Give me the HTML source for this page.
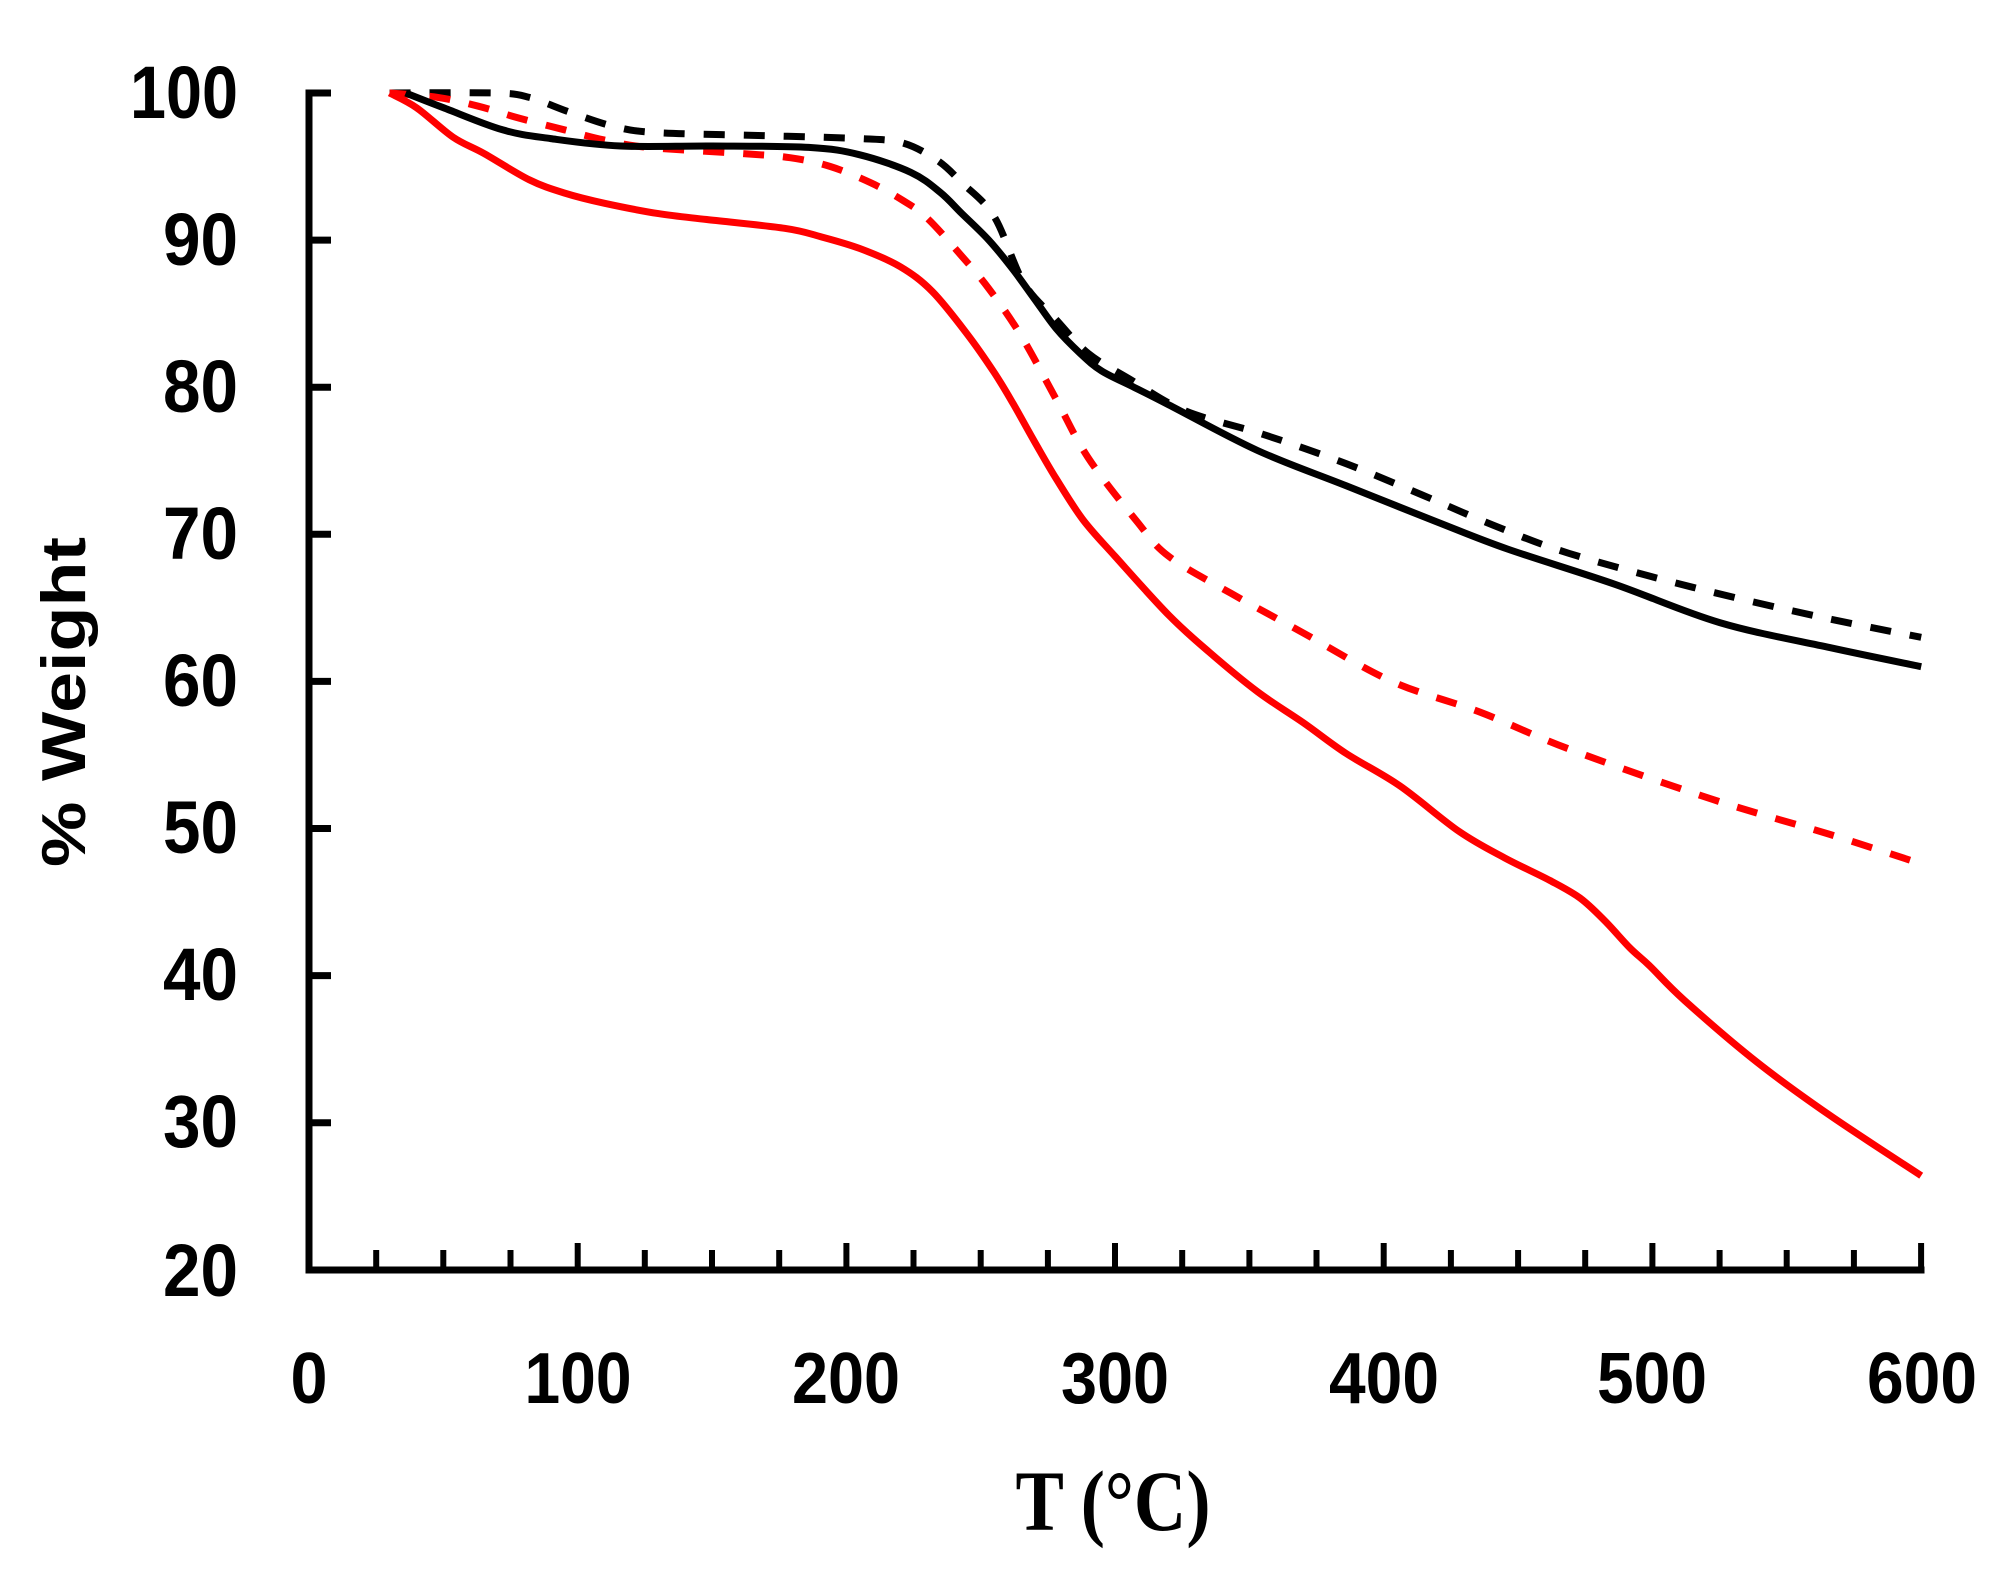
<!DOCTYPE html>
<html>
<head>
<meta charset="utf-8">
<style>
  html, body { margin:0; padding:0; background:#ffffff; }
  svg { display:block; }
</style>
</head>
<body>
<svg id="chart" width="2001" height="1572" viewBox="0 0 2001 1572" xmlns="http://www.w3.org/2000/svg">
  <rect x="0" y="0" width="2001" height="1572" fill="#ffffff"/>

  <!-- Axes -->
  <g stroke="#000" stroke-width="7" fill="none" stroke-linecap="square">
    <line x1="309" y1="93" x2="309" y2="1270"/>
    <line x1="309" y1="1270" x2="1921" y2="1270"/>
  </g>
  <!-- Y ticks -->
  <g stroke="#000" stroke-width="7">
    <line x1="309" y1="93" x2="331" y2="93"/>
    <line x1="309" y1="240.1" x2="331" y2="240.1"/>
    <line x1="309" y1="387.2" x2="331" y2="387.2"/>
    <line x1="309" y1="534.3" x2="331" y2="534.3"/>
    <line x1="309" y1="681.4" x2="331" y2="681.4"/>
    <line x1="309" y1="828.5" x2="331" y2="828.5"/>
    <line x1="309" y1="975.6" x2="331" y2="975.6"/>
    <line x1="309" y1="1122.7" x2="331" y2="1122.7"/>
  </g>
  <!-- X ticks -->
  <g stroke="#000" stroke-width="6">
    <line x1="376.2" y1="1270" x2="376.2" y2="1250"/>
    <line x1="443.3" y1="1270" x2="443.3" y2="1250"/>
    <line x1="510.5" y1="1270" x2="510.5" y2="1250"/>
    <line x1="577.7" y1="1270" x2="577.7" y2="1243"/>
    <line x1="644.8" y1="1270" x2="644.8" y2="1250"/>
    <line x1="712.0" y1="1270" x2="712.0" y2="1250"/>
    <line x1="779.2" y1="1270" x2="779.2" y2="1250"/>
    <line x1="846.4" y1="1270" x2="846.4" y2="1243"/>
    <line x1="913.5" y1="1270" x2="913.5" y2="1250"/>
    <line x1="980.7" y1="1270" x2="980.7" y2="1250"/>
    <line x1="1047.9" y1="1270" x2="1047.9" y2="1250"/>
    <line x1="1115.0" y1="1270" x2="1115.0" y2="1243"/>
    <line x1="1182.2" y1="1270" x2="1182.2" y2="1250"/>
    <line x1="1249.4" y1="1270" x2="1249.4" y2="1250"/>
    <line x1="1316.5" y1="1270" x2="1316.5" y2="1250"/>
    <line x1="1383.7" y1="1270" x2="1383.7" y2="1243"/>
    <line x1="1450.9" y1="1270" x2="1450.9" y2="1250"/>
    <line x1="1518.1" y1="1270" x2="1518.1" y2="1250"/>
    <line x1="1585.2" y1="1270" x2="1585.2" y2="1250"/>
    <line x1="1652.4" y1="1270" x2="1652.4" y2="1243"/>
    <line x1="1719.6" y1="1270" x2="1719.6" y2="1250"/>
    <line x1="1786.7" y1="1270" x2="1786.7" y2="1250"/>
    <line x1="1853.9" y1="1270" x2="1853.9" y2="1250"/>
    <line x1="1921.1" y1="1273" x2="1921.1" y2="1243"/>
  </g>

  <!-- Y labels -->
  <g font-family="'Liberation Sans', 'DejaVu Sans', sans-serif" font-weight="bold" font-size="74" fill="#000" text-anchor="end">
    <text x="238" y="118" textLength="108" lengthAdjust="spacingAndGlyphs">100</text>
    <text x="238" y="265" textLength="75" lengthAdjust="spacingAndGlyphs">90</text>
    <text x="238" y="412" textLength="75" lengthAdjust="spacingAndGlyphs">80</text>
    <text x="238" y="559" textLength="75" lengthAdjust="spacingAndGlyphs">70</text>
    <text x="238" y="706" textLength="75" lengthAdjust="spacingAndGlyphs">60</text>
    <text x="238" y="853" textLength="75" lengthAdjust="spacingAndGlyphs">50</text>
    <text x="238" y="1000" textLength="75" lengthAdjust="spacingAndGlyphs">40</text>
    <text x="238" y="1147" textLength="75" lengthAdjust="spacingAndGlyphs">30</text>
    <text x="238" y="1296" textLength="75" lengthAdjust="spacingAndGlyphs">20</text>
  </g>

  <!-- X labels -->
  <g font-family="'Liberation Sans', 'DejaVu Sans', sans-serif" font-weight="bold" font-size="72" fill="#000" text-anchor="middle">
    <text x="309" y="1403" textLength="37" lengthAdjust="spacingAndGlyphs">0</text>
    <text x="578" y="1403" textLength="107" lengthAdjust="spacingAndGlyphs">100</text>
    <text x="846" y="1403" textLength="108" lengthAdjust="spacingAndGlyphs">200</text>
    <text x="1115" y="1403" textLength="108" lengthAdjust="spacingAndGlyphs">300</text>
    <text x="1384" y="1403" textLength="110" lengthAdjust="spacingAndGlyphs">400</text>
    <text x="1652" y="1403" textLength="110" lengthAdjust="spacingAndGlyphs">500</text>
    <text x="1922" y="1403" textLength="110" lengthAdjust="spacingAndGlyphs">600</text>
  </g>

  <!-- Axis titles -->
  <text transform="translate(85,702) rotate(-90)" text-anchor="middle"
        font-family="'Liberation Sans', 'DejaVu Sans', sans-serif" font-weight="bold" font-size="62" fill="#000"
        textLength="330" lengthAdjust="spacingAndGlyphs">% Weight</text>
  <text x="1113" y="1530" text-anchor="middle" xml:space="preserve"
        font-family="'Liberation Serif', 'DejaVu Serif', serif" font-weight="bold" font-size="86" fill="#000"
        textLength="195" lengthAdjust="spacingAndGlyphs">T (°C)</text>

  <!-- Series -->
  <g id="series" fill="none" stroke-width="7" stroke-linejoin="round">
    <!-- Black dashed -->
    <polyline class="s" stroke="#000" stroke-dasharray="21 19"
      points="389.6,93 494.4,93 529.3,97.4 569.6,112.1 615.3,126.8 658.3,132.7 765.8,135.7 859.8,138.6 902.8,143.0 937.8,160.7 961.9,182.7 994.2,216.6 1023.7,282.8 1056.0,319.5 1088.2,353.4 1128.5,378.4 1185.0,410.7 1262.9,434.3 1346.2,463.7 1421.4,494.6 1494.0,525.5 1569.2,553.4 1692.8,587.3 1819.1,616.7 1921.2,637.3"/>
    <!-- Red dashed -->
    <polyline class="s" stroke="#ff0000" stroke-dasharray="21 19"
      points="389.6,93 438.0,97.4 478.3,106.2 518.6,118.0 564.3,129.8 604.6,140.1 647.6,147.4 738.9,153.3 790.0,157.7 830.3,166.5 870.6,182.7 902.8,200.4 927.0,218.0 961.9,256.3 988.8,288.6 1021.1,335.7 1056.0,399.0 1088.2,457.8 1136.6,521.1 1168.8,556.4 1230.6,593.1 1303.2,632.9 1391.9,681.4 1480.5,712.3 1569.2,749.1 1711.6,799.1 1829.8,834.4 1921.2,863.8"/>
    <!-- Black solid -->
    <polyline class="s" stroke="#000"
      points="405.7,93 443.4,107.7 502.5,129.8 550.8,138.6 620.7,146.0 712.1,146.0 808.8,147.4 859.8,154.8 910.9,172.4 940.4,192.5 961.9,213.6 988.8,240.1 1013.0,269.5 1034.5,299.0 1056.0,328.4 1080.2,353.4 1101.7,371.0 1133.9,387.2 1168.8,404.9 1257.5,450.5 1346.2,485.8 1434.9,521.1 1507.4,549.0 1614.9,584.3 1719.7,622.6 1829.8,647.6 1921.2,666.7"/>
    <!-- Red solid -->
    <polyline class="s" stroke="#ff0000"
      points="389.6,93 416.5,107.7 453.0,137.1 483.7,153.3 529.3,179.8 564.3,193.0 604.6,203.3 658.3,213.6 706.7,219.5 784.6,228.3 820.0,236.5 859.8,248.5 900.1,266.6 932.4,291.6 967.3,334.2 994.2,372.5 1013.0,403.4 1034.5,441.6 1056.0,478.4 1082.9,519.6 1115.1,556.4 1168.8,615.2 1209.1,652.0 1257.5,691.7 1303.2,722.6 1346.2,753.5 1399.9,785.9 1459.0,831.4 1504.7,857.9 1550.0,880.5 1580.0,898.0 1605.0,921.0 1630.0,948.0 1649.8,966.0 1684.7,1000.6 1757.3,1062.4 1829.8,1115.3 1921.2,1175.7"/>
  </g>
</svg>
<script>
(function(){
  try {
    var NS = "http://www.w3.org/2000/svg";
    var lines = document.querySelectorAll("polyline.s");
    for (var i = 0; i < lines.length; i++) {
      var pl = lines[i];
      var raw = pl.getAttribute("points").trim().split(/\s+/);
      var p = raw.map(function(s){ var a = s.split(","); return [parseFloat(a[0]), parseFloat(a[1])]; });
      if (p.length < 3) continue;
      var d = "M" + p[0][0] + "," + p[0][1];
      for (var k = 0; k < p.length - 1; k++) {
        var p0 = p[k > 0 ? k - 1 : 0], p1 = p[k], p2 = p[k + 1], p3 = p[k + 2 < p.length ? k + 2 : p.length - 1];
        var c1x = p1[0] + (p2[0] - p0[0]) / 6, c1y = p1[1] + (p2[1] - p0[1]) / 6;
        var c2x = p2[0] - (p3[0] - p1[0]) / 6, c2y = p2[1] - (p3[1] - p1[1]) / 6;
        d += " C" + c1x.toFixed(1) + "," + c1y.toFixed(1) + " " + c2x.toFixed(1) + "," + c2y.toFixed(1) + " " + p2[0] + "," + p2[1];
      }
      var path = document.createElementNS(NS, "path");
      path.setAttribute("d", d);
      path.setAttribute("stroke", pl.getAttribute("stroke"));
      if (pl.getAttribute("stroke-dasharray")) path.setAttribute("stroke-dasharray", pl.getAttribute("stroke-dasharray"));
      pl.parentNode.replaceChild(path, pl);
    }
  } catch (e) {}
})();
</script>
</body>
</html>
